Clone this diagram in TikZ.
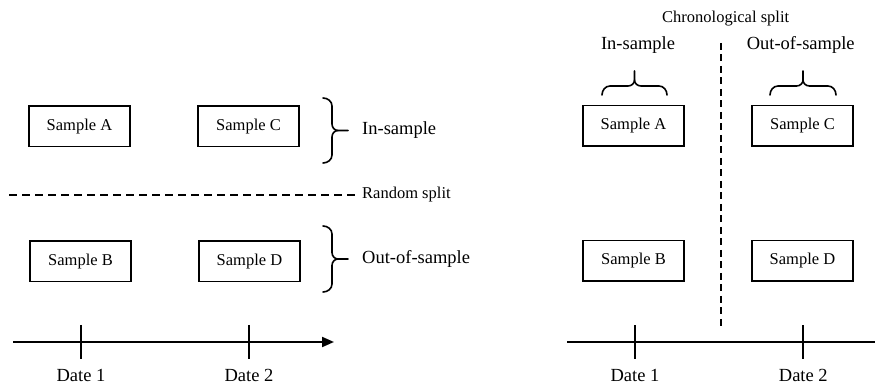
\documentclass[tikz,border=0pt]{standalone}
\usepackage{fontspec}
\setmainfont{Liberation Serif}
\usetikzlibrary{arrows.meta}
\begin{document}
\begin{tikzpicture}[x=1pt,y=1pt,
  samplebox/.style={draw, line width=1.5pt, minimum width=101pt, minimum height=40.5pt, inner sep=0pt, font=\fontsize{16.5}{18}\selectfont},
  biglabel/.style={font=\fontsize{18.5}{20}\selectfont, inner sep=0pt},
  smalllabel/.style={font=\fontsize{16.5}{18}\selectfont, inner sep=0pt},
  bracestyle/.style={line width=1.6pt, line cap=round},
  axisline/.style={line width=2pt},
  tickline/.style={line width=2pt},
  splitline/.style={line width=1.8pt, dash pattern=on 8pt off 5pt}]
\useasboundingbox (0,0) rectangle (875,385);

% ---------- Left panel: random split ----------
\node[samplebox] (LA) at (79.5,258.5) {Sample A};
\node[samplebox] (LC) at (248.5,258.5) {Sample C};
\node[samplebox] (LB) at (80.5,123.5) {Sample B};
\node[samplebox] (LD) at (249.5,123.5) {Sample D};

% brace for in-sample (top 287, bottom 222, tip 254.5)
\draw[bracestyle] (323,287) to[out=0,in=90] (332,279) -- (332,261)
  to[out=-90,in=180] (338,254.5) -- (348,254.5);
\draw[bracestyle] (323,222) to[out=0,in=-90] (332,230) -- (332,248)
  to[out=90,in=180] (338,254.5);
\node[biglabel, anchor=west] (LIn) at (362,254.5) {In-sample};

% brace for out-of-sample (top 159, bottom 93, tip 126)
\draw[bracestyle] (323,159) to[out=0,in=90] (332,151) -- (332,132.5)
  to[out=-90,in=180] (338,126) -- (348,126);
\draw[bracestyle] (323,93) to[out=0,in=-90] (332,101) -- (332,119.5)
  to[out=90,in=180] (338,126);
\node[biglabel, anchor=west] (LOut) at (362,126) {Out-of-sample};

% random split dashed line
\node[smalllabel, anchor=west] (RS) at (362,190) {Random split};
\coordinate (RSstart) at (9,190);
\draw[splitline, shorten >=4pt] (RSstart) -- (RS.west);

% left timeline
\coordinate (LT0) at (13,43);
\coordinate (LT1) at (334,43);
\draw[axisline, -{Triangle[length=12pt,width=10pt]}] (LT0) -- (LT1);
\coordinate (LD1) at (81,43);
\coordinate (LD2) at (249,43);
\draw[tickline] ([yshift=17pt]LD1) -- ([yshift=-17pt]LD1);
\draw[tickline] ([yshift=17pt]LD2) -- ([yshift=-17pt]LD2);
\node[biglabel, anchor=base] (LDate1) at (81,3) {Date 1};
\node[biglabel, anchor=base] (LDate2) at (249,3) {Date 2};

% ---------- Right panel: chronological split ----------
\node[samplebox] (RA) at (633.5,259) {Sample A};
\node[samplebox] (RC) at (802.5,259) {Sample C};
\node[samplebox] (RB) at (633.5,124) {Sample B};
\node[samplebox] (RD) at (802.5,124) {Sample D};

\node[smalllabel] (CS) at (725.7,366) {Chronological split};
\node[biglabel] (RIn) at (638,340) {In-sample};
\node[biglabel] (ROut) at (800.7,340) {Out-of-sample};

% top braces (ends at 290, bar 299, tip 314)
\draw[bracestyle] (602,290) to[out=90,in=180] (610,299) -- (628,299)
  to[out=0,in=-90] (634.5,305) -- (634.5,314);
\draw[bracestyle] (667,290) to[out=90,in=0] (659,299) -- (641,299)
  to[out=180,in=-90] (634.5,305);
\draw[bracestyle] (770,290) to[out=90,in=180] (778,299) -- (796.5,299)
  to[out=0,in=-90] (803,305) -- (803,314);
\draw[bracestyle] (836,290) to[out=90,in=0] (828,299) -- (809.5,299)
  to[out=180,in=-90] (803,305);

% chronological split dashed line
\coordinate (CStop) at (721,342);
\coordinate (CSbot) at (721,58);
\draw[line width=1.8pt, dash pattern=on 7pt off 4.5pt] (CStop) -- (CSbot);

% right timeline
\coordinate (RT0) at (567,42.5);
\coordinate (RT1) at (875,42.5);
\draw[axisline] (RT0) -- (RT1);
\coordinate (RD1) at (635,42.5);
\coordinate (RD2) at (803.3,42.5);
\draw[tickline] ([yshift=17pt]RD1) -- ([yshift=-17pt]RD1);
\draw[tickline] ([yshift=17pt]RD2) -- ([yshift=-17pt]RD2);
\node[biglabel, anchor=base] (RDate1) at (635,3) {Date 1};
\node[biglabel, anchor=base] (RDate2) at (803.3,3) {Date 2};
\end{tikzpicture}
\end{document}
